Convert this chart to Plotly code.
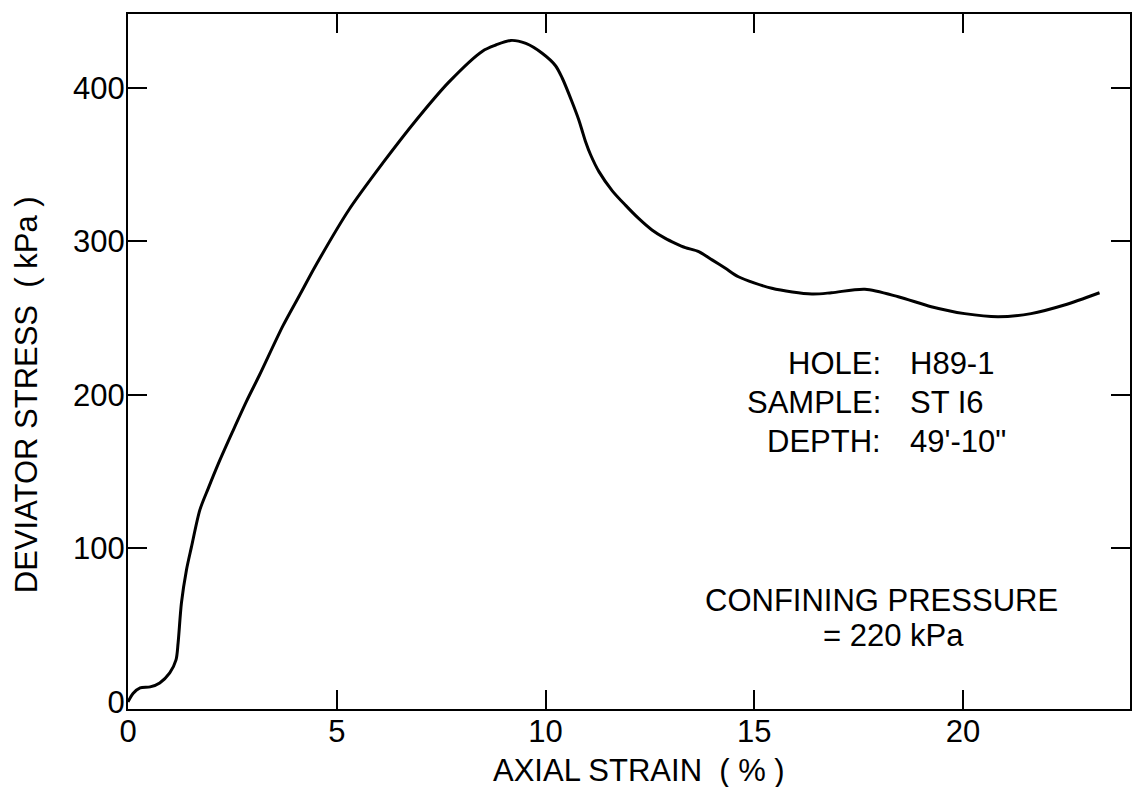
import plotly.graph_objects as go

# Triaxial test: deviator stress vs axial strain
axial_strain = [0.0, 0.12, 0.29, 0.53, 0.76, 1.00, 1.15, 1.20, 1.28, 1.40, 1.52, 1.72,
                1.92, 2.20, 2.52, 2.84, 3.15, 3.71, 4.11, 4.51, 5.30, 6.10, 6.90, 7.69,
                8.49, 8.81, 9.17, 9.53, 9.92, 10.24, 10.40, 10.62, 10.80, 10.88, 10.96,
                11.08, 11.28, 11.60, 11.92, 12.23, 12.55, 12.87, 13.11, 13.35, 13.67,
                13.99, 14.31, 14.62, 15.42, 16.38, 16.85, 17.65, 18.45, 19.24, 20.04,
                20.84, 21.63, 22.43, 23.27]
deviator_stress = [0.0, 5.5, 9.1, 9.8, 12.4, 18.9, 27.4, 38.4, 64.5, 86, 101, 125,
                   139, 157.5, 177, 196, 213, 245, 265, 285, 321, 351, 379, 404,
                   424, 428, 431, 429, 422.6, 414.5, 406.5, 392, 379, 372, 365,
                   356.5, 345.5, 333, 323.5, 315, 307.5, 302, 298.8, 296, 293.4,
                   288, 282.5, 277, 269.5, 265.8, 266.6, 268.9, 264, 257.5, 253,
                   251, 253, 258.6, 266.6]

x_ticks = [0, 5, 10, 15, 20]
y_labels = [0, 100, 200, 300, 400]
y_ticks = [100, 200, 300, 400]
x_range = [0, 24]
y_range = [-4.6, 448.2]

info_labels = ["HOLE:", "SAMPLE:", "DEPTH:"]
info_values = ["H89-1", "ST I6", "49'-10\""]
info_y = [220.8, 195.4, 169.4]

FONT = "Arial, Liberation Sans, sans-serif"
SIZE = 31
NB = "\u00a0"

fig = go.Figure()
fig.add_trace(go.Scatter(
    x=axial_strain, y=deviator_stress, mode="lines",
    line=dict(color="black", width=3, shape="spline", smoothing=0.8),
    showlegend=False, hoverinfo="skip",
))

fig.update_layout(
    width=1135, height=787,
    margin=dict(l=128, r=3, t=14, b=78),
    paper_bgcolor="white", plot_bgcolor="white",
    font=dict(family=FONT, size=SIZE, color="black"),
    xaxis=dict(
        range=x_range, tickvals=x_ticks, ticks="inside", ticklen=19, tickwidth=1.5,
        tickcolor="black", showline=True, linewidth=2, linecolor="black",
        mirror="ticks", showgrid=False, zeroline=False, ticklabelstandoff=-6,
        tickfont=dict(family=FONT, size=SIZE, color="black"),
    ),
    yaxis=dict(
        range=y_range, tickvals=y_labels, ticks="", showline=True, linewidth=2,
        linecolor="black", mirror=True, showgrid=False, zeroline=False,
        ticklabelstandoff=-5,
        tickfont=dict(family=FONT, size=SIZE, color="black"),
    ),
    yaxis2=dict(
        range=y_range, overlaying="y", side="left", tickvals=y_ticks,
        ticks="inside", ticklen=19, tickwidth=2, tickcolor="black",
        showticklabels=False, showline=False, mirror="ticks",
        showgrid=False, zeroline=False,
    ),
)

# invisible trace to activate the tick-only axis
fig.add_trace(go.Scatter(x=[None], y=[None], yaxis="y2", showlegend=False,
                         hoverinfo="skip"))

# axis titles
fig.add_annotation(text=f"AXIAL STRAIN{NB}{NB}({NB}%{NB})", xref="paper", yref="paper",
                   x=0.51, y=-0.089, xanchor="center", yanchor="middle",
                   showarrow=False, font=dict(family=FONT, size=SIZE, color="black"))
fig.add_annotation(text=f"DEVIATOR STRESS{NB}{NB}({NB}kPa{NB})", xref="paper", yref="paper",
                   x=-0.1006, y=0.4518, xanchor="center", yanchor="middle", textangle=-90,
                   showarrow=False, font=dict(family=FONT, size=SIZE, color="black"))

# sample information block
for lab, val, yy in zip(info_labels, info_values, info_y):
    fig.add_annotation(text=lab, x=18.09, y=yy, xanchor="right", yanchor="middle",
                       showarrow=False, font=dict(family=FONT, size=SIZE, color="black"))
    fig.add_annotation(text=val, x=18.69, y=yy, xanchor="left", yanchor="middle",
                       showarrow=False, font=dict(family=FONT, size=SIZE, color="black"))

fig.add_annotation(text="CONFINING PRESSURE", x=18.05, y=66.4, xanchor="center",
                   yanchor="middle", showarrow=False,
                   font=dict(family=FONT, size=SIZE, color="black"))
fig.add_annotation(text="= 220 kPa", x=18.33, y=43, xanchor="center",
                   yanchor="middle", showarrow=False,
                   font=dict(family=FONT, size=SIZE, color="black"))

fig.write_html("out.html")
